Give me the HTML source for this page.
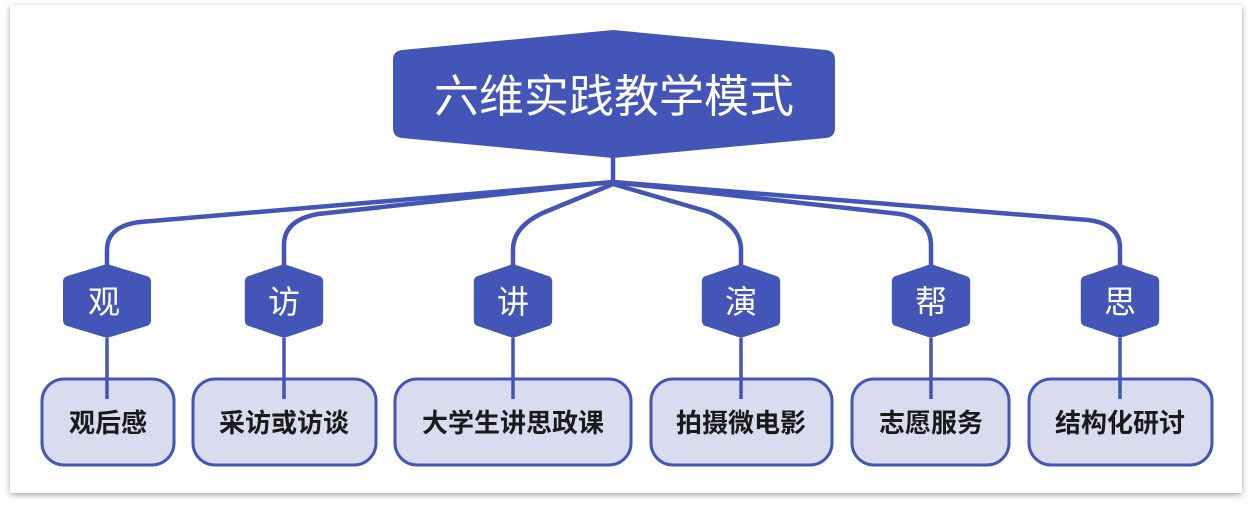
<!DOCTYPE html>
<html><head><meta charset="utf-8"><style>
html,body{margin:0;padding:0;background:#fff;}
body{width:1254px;height:509px;position:relative;overflow:hidden;}
.card{position:absolute;left:10px;top:5px;width:1232px;height:488px;background:#fff;box-shadow:0 2px 6px rgba(0,0,0,0.35);}
svg{position:absolute;left:0;top:0;}
text{font-family:"Liberation Sans","Noto Sans CJK SC",sans-serif;}
</style></head><body>
<div class="card"></div>
<svg width="1254" height="509" viewBox="0 0 1254 509">
<g fill="none" stroke="#4355b7" stroke-width="4.5" stroke-linecap="round">
<path d="M613 157 V182"/>
<path d="M613 182 L140 222 Q107 226 107 250 V268"/>
<path d="M613 182 L318 214 Q284 220 284 245 V268"/>
<path d="M613 184 L545 212 Q513 226 513 250 V268"/>
<path d="M613 184 L709 212 Q741 226 741 250 V268"/>
<path d="M613 182 L900 214 Q931 220 931 245 V268"/>
<path d="M613 182 L1088 220 Q1120 224 1120 248 V268"/>
</g>
<path d="M613 30 L826 50 Q835 51 835 60 V128 Q835 137 826 138 L613 158 L402 138 Q393 137 393 128 V60 Q393 51 402 50 Z" fill="#4355b7"/>
<text x="614" y="112" font-size="45" fill="#fff" text-anchor="middle">六维实践教学模式</text>
<g fill="#4355b7">
<path d="M0 -37 L36 -25 Q40 -24 40 -19 V19 Q40 24 36 25 L0 37 L-36 25 Q-40 24 -40 19 V-19 Q-40 -24 -36 -25 Z" transform="translate(107 301) scale(1.1 1)"/>
<path d="M0 -37 L36 -25 Q40 -24 40 -19 V19 Q40 24 36 25 L0 37 L-36 25 Q-40 24 -40 19 V-19 Q-40 -24 -36 -25 Z" transform="translate(284 301) scale(0.98 1)"/>
<path d="M0 -37 L36 -25 Q40 -24 40 -19 V19 Q40 24 36 25 L0 37 L-36 25 Q-40 24 -40 19 V-19 Q-40 -24 -36 -25 Z" transform="translate(513 301) scale(0.98 1)"/>
<path d="M0 -37 L36 -25 Q40 -24 40 -19 V19 Q40 24 36 25 L0 37 L-36 25 Q-40 24 -40 19 V-19 Q-40 -24 -36 -25 Z" transform="translate(741 301) scale(0.98 1)"/>
<path d="M0 -37 L36 -25 Q40 -24 40 -19 V19 Q40 24 36 25 L0 37 L-36 25 Q-40 24 -40 19 V-19 Q-40 -24 -36 -25 Z" transform="translate(931 301) scale(0.98 1)"/>
<path d="M0 -37 L36 -25 Q40 -24 40 -19 V19 Q40 24 36 25 L0 37 L-36 25 Q-40 24 -40 19 V-19 Q-40 -24 -36 -25 Z" transform="translate(1120 301) scale(0.98 1)"/>
</g>
<g font-size="32" fill="#fff" text-anchor="middle">
<text x="104" y="313">观</text><text x="284" y="313">访</text><text x="513" y="313">讲</text>
<text x="741" y="313">演</text><text x="931" y="313">帮</text><text x="1120" y="313">思</text>
</g>
<g fill="#d9dcee" stroke="#4355b7" stroke-width="3">
<rect x="42" y="379" width="132" height="86" rx="22"/>
<rect x="193" y="379" width="183" height="86" rx="22"/>
<rect x="395" y="379" width="236" height="86" rx="22"/>
<rect x="651" y="379" width="181" height="86" rx="22"/>
<rect x="852" y="379" width="157" height="86" rx="22"/>
<rect x="1029" y="379" width="183" height="86" rx="22"/>
</g>
<g stroke="#4355b7" stroke-width="3.5">
<path d="M107 338 V399 M284 338 V399 M513 338 V399 M741 338 V399 M931 338 V399 M1120 338 V399"/>
</g>
<g font-size="26" font-weight="bold" fill="#1a1a1a" text-anchor="middle">
<text x="108" y="432">观后感</text><text x="284" y="432">采访或访谈</text><text x="513" y="432">大学生讲思政课</text>
<text x="741" y="432">拍摄微电影</text><text x="931" y="432">志愿服务</text><text x="1120" y="432">结构化研讨</text>
</g>
</svg>
</body></html>
